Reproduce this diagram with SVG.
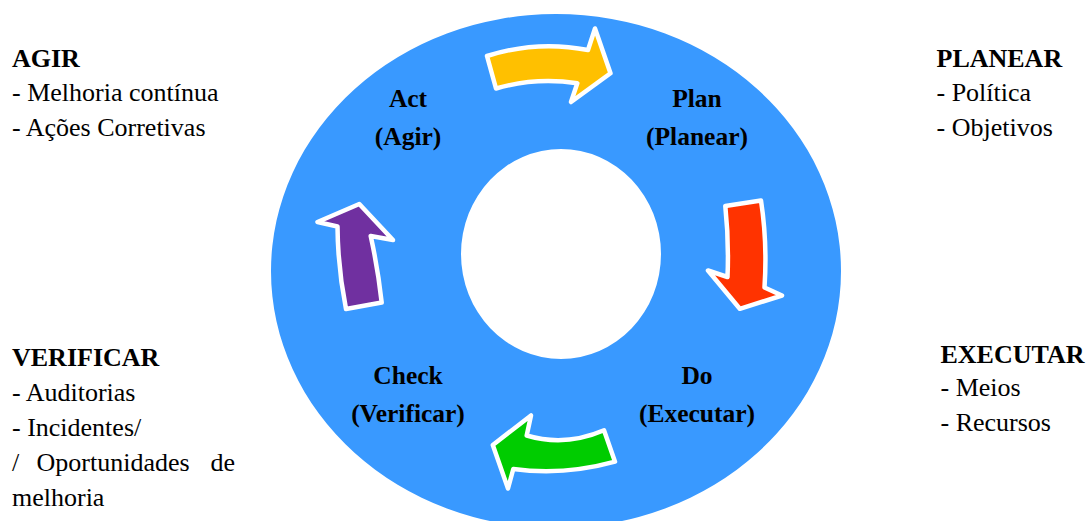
<svg xmlns="http://www.w3.org/2000/svg" width="1090" height="521" viewBox="0 0 1090 521">
<style>
.lbl{font-family:"Liberation Serif","Times New Roman",serif;font-weight:bold;font-size:25.5px;fill:#000;text-anchor:middle}
.side{font-family:"Liberation Serif","Times New Roman",serif;font-size:26px;fill:#000}
.head{font-weight:bold}
.arr{stroke:#fff;stroke-width:4.5;stroke-linejoin:round}
</style>
<rect width="1090" height="521" fill="#fff"/>
<g id="ring">
<path d="M271,271 a285,257 0 1,0 570,0 a285,257 0 1,0 -570,0 Z M461,254 a100,105 0 1,1 200,0 a100,105 0 1,1 -200,0 Z" fill="#3999FF" fill-rule="evenodd"/>
</g>
<g id="connectors">
<path class="arr" fill="#FFC000" d="M487,56 Q537,40 588,50 L595,28.5 L610.5,73.3 L571,102 L577.3,83.3 Q536,77 496,88.5 Z"/>
<path class="arr" fill="#FF3300" d="M725.3,206 L761,200.5 Q767.5,243 764.5,287.5 L782,295.5 L739.8,308.8 L708,270.5 L727.5,277 Q729,241 725.3,206 Z"/>
<path class="arr" fill="#00CC00" d="M604,430.3 L615,461.7 Q563,476 513.3,469 L508,488.5 L492.8,445 L531,415.5 L526.7,435.5 Q565,447 604,430.3 Z"/>
<path class="arr" fill="#7030A0" d="M346,309 L381.7,302.5 Q378,269 370.7,236 L393,240 L359.3,204 L317.5,222 L337.5,226.5 Q337.8,268 346,309 Z"/>
</g>
<g id="act"><text class="lbl" x="408" y="107">Act</text><text class="lbl" x="408" y="145">(Agir)</text></g>
<g id="plan"><text class="lbl" x="697" y="107">Plan</text><text class="lbl" x="697" y="145">(Planear)</text></g>
<g id="check"><text class="lbl" x="408" y="384">Check</text><text class="lbl" x="408" y="422">(Verificar)</text></g>
<g id="do"><text class="lbl" x="697" y="384">Do</text><text class="lbl" x="697" y="422">(Executar)</text></g>
<g id="agir">
<text class="side head" x="12" y="66.7">AGIR</text>
<text class="side" x="12" y="100.7">- Melhoria contínua</text>
<text class="side" x="12" y="136">- Ações Corretivas</text>
</g>
<g id="verificar">
<text class="side head" x="12" y="366">VERIFICAR</text>
<text class="side" x="12" y="400.5">- Auditorias</text>
<text class="side" x="12" y="435.5">- Incidentes/</text>
<text class="side" y="470.5"><tspan x="12">/</tspan><tspan x="36.5">Oportunidades</tspan><tspan x="210.5">de</tspan></text>
<text class="side" x="12" y="505.5">melhoria</text>
</g>
<g id="planear">
<text class="side head" x="936.5" y="66.7">PLANEAR</text>
<text class="side" x="936.5" y="100.7">- Política</text>
<text class="side" x="936.5" y="136">- Objetivos</text>
</g>
<g id="executar">
<text class="side head" x="940.5" y="363.3">EXECUTAR</text>
<text class="side" x="940.5" y="395.5">- Meios</text>
<text class="side" x="940.5" y="430.5">- Recursos</text>
</g>
</svg>
